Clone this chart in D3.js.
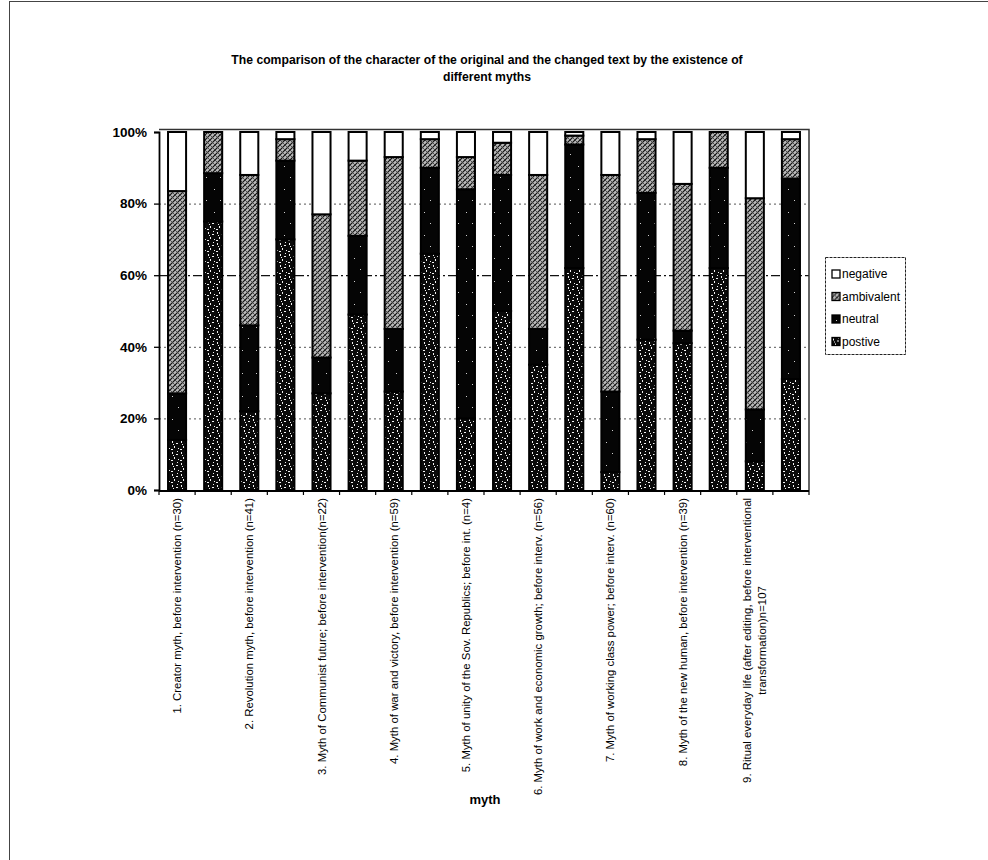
<!DOCTYPE html>
<html>
<head>
<meta charset="utf-8">
<script src="https://cdn.jsdelivr.net/npm/d3@7"></script>
<style>
  body { margin: 0; background: #fff; }
  svg { display: block; font-family: Arial, "Liberation Sans", sans-serif; }
</style>
</head>
<body>
<svg id="chart" width="988" height="860"></svg>
<script>
// Categories: each myth appears twice, original text (labelled) and changed text (unlabelled)
const categories = ["m1a","m1b","m2a","m2b","m3a","m3b","m4a","m4b","m5a","m5b","m6a","m6b","m7a","m7b","m8a","m8b","m9a","m9b"];
const tickLabels = [
  "1. Creator myth, before intervention (n=30)", "",
  "2. Revolution myth, before intervention (n=41)", "",
  "3. Myth of Communist future; before intervention(n=22)", "",
  "4. Myth of war and victory, before intervention (n=59)", "",
  "5. Myth of unity of the Sov. Republics; before int. (n=4)", "",
  "6. Myth of work and economic growth; before interv. (n=56)", "",
  "7. Myth of working class power; before interv. (n=60)", "",
  "8. Myth of the new human, before intervention (n=39)", "",
  "9. Ritual everyday life (after editing, before interventional\ntransformation)n=107", ""
];

// Shares in percent, stacked bottom to top: postive, neutral, ambivalent, negative
const positive   = [14, 75, 22, 70, 27, 49, 27.5, 66, 20, 50, 35, 62, 5, 42, 41, 62, 8, 31];
const neutral    = [13, 13.5, 24, 22, 10, 22, 17.5, 24, 64, 38, 10, 34.5, 22.5, 41, 3.5, 28, 14.5, 56];
const ambivalent = [56.5, 11.5, 42, 6, 40, 21, 48, 8, 9, 9, 43, 2.5, 60.5, 15, 41, 10, 59, 11];
const negative   = [16.5, 0, 12, 2, 23, 8, 7, 2, 7, 3, 12, 1, 12, 2, 14.5, 0, 18.5, 2];

const seriesKeys = ["positive", "neutral", "ambivalent", "negative"];
const legendNames = { negative: "negative", ambivalent: "ambivalent", neutral: "neutral", positive: "postive" };
const yTickValues = [0, 0.2, 0.4, 0.6, 0.8, 1];

const titleLines = [
  "The comparison of the character of the original and the changed text by the existence of",
  "different myths"
];
const xAxisTitle = "myth";

const rows = categories.map((c, i) => ({
  id: c,
  positive: positive[i] / 100,
  neutral: neutral[i] / 100,
  ambivalent: ambivalent[i] / 100,
  negative: negative[i] / 100
}));

const svg = d3.select("#chart");
const plot = { left: 159, right: 809, top: 132, bottom: 490 };

// fills: textured patterns for the dark segments and the hatched segment
const defs = svg.append("defs");

const pPos = defs.append("pattern").attr("id", "pat-positive")
  .attr("patternUnits", "userSpaceOnUse").attr("width", 9).attr("height", 11);
pPos.append("rect").attr("width", 9).attr("height", 11).attr("fill", "#0a0a0a");
[[1,1,1,2],[5,3,2,1],[3,6,1,2],[7,8,1,1],[0,9,2,1],[6,0,1,1],[2,4,1,1]].forEach(d =>
  pPos.append("rect").attr("x", d[0]).attr("y", d[1]).attr("width", d[2]).attr("height", d[3]).attr("fill", "#f2f2f2"));

const pNeu = defs.append("pattern").attr("id", "pat-neutral")
  .attr("patternUnits", "userSpaceOnUse").attr("width", 14).attr("height", 23);
pNeu.append("rect").attr("width", 14).attr("height", 23).attr("fill", "#050505");
[[4,5,1,1],[10,16,1,1]].forEach(d =>
  pNeu.append("rect").attr("x", d[0]).attr("y", d[1]).attr("width", d[2]).attr("height", d[3]).attr("fill", "#cfcfcf"));

const pAmb = defs.append("pattern").attr("id", "pat-ambivalent")
  .attr("patternUnits", "userSpaceOnUse").attr("width", 5).attr("height", 5);
pAmb.append("rect").attr("width", 5).attr("height", 5).attr("fill", "#b8b8b8");
pAmb.append("path").attr("d", "M0,5L5,0M-1,1L1,-1M4,6L6,4").attr("stroke", "#111").attr("stroke-width", 1.2);
pAmb.append("path").attr("d", "M0,0L5,5M-1,4L1,6M4,-1L6,1").attr("stroke", "#444").attr("stroke-width", 0.9);

const fills = {
  positive: "url(#pat-positive)",
  neutral: "url(#pat-neutral)",
  ambivalent: "url(#pat-ambivalent)",
  negative: "#ffffff"
};

// scales
const x = d3.scaleBand().domain(categories).range([plot.left, plot.right])
  .paddingInner(0.5).paddingOuter(0.25);
const y = d3.scaleLinear().domain([0, 1]).range([plot.bottom, plot.top]);

// outer chart frame
svg.append("rect").attr("x", 9.5).attr("y", 1.5).attr("width", 990).attr("height", 870)
  .attr("fill", "none").attr("stroke", "#444").attr("stroke-width", 1);

// title
svg.append("text").attr("x", 487).attr("y", 64).attr("text-anchor", "middle")
  .attr("font-size", 12.2).attr("font-weight", "bold")
  .selectAll("tspan").data(titleLines).join("tspan")
  .attr("x", 487).attr("dy", (d, i) => i === 0 ? 0 : 17).text(d => d);

// gridlines
svg.append("g").selectAll("line").data(yTickValues.filter(v => v > 0 && v < 1)).join("line")
  .attr("x1", plot.left).attr("x2", plot.right)
  .attr("y1", d => y(d) + 0.5).attr("y2", d => y(d) + 0.5)
  .attr("stroke", d => d === 0.6 ? "#111" : "#555")
  .attr("stroke-width", d => d === 0.6 ? 1.2 : 1)
  .attr("stroke-dasharray", d => d === 0.6 ? "9,3,2,3" : "2,3");

// plot area border (top and right)
svg.append("path")
  .attr("d", `M${plot.left},${plot.top - 2.5}H${plot.right}V${plot.bottom}`)
  .attr("fill", "none").attr("stroke", "#333").attr("stroke-width", 1.5);

// stacked bars
const stacked = d3.stack().keys(seriesKeys)(rows);
svg.append("g").selectAll("g").data(stacked).join("g")
  .attr("fill", d => fills[d.key])
  .selectAll("rect").data(d => d).join("rect")
  .attr("x", d => x(d.data.id))
  .attr("width", x.bandwidth())
  .attr("y", d => y(d[1]))
  .attr("height", d => Math.max(0, y(d[0]) - y(d[1])))
  .attr("stroke", "#000").attr("stroke-width", 2);

// y axis
const yAxis = svg.append("g").attr("transform", `translate(${plot.left},0)`)
  .call(d3.axisLeft(y).tickValues(yTickValues).tickFormat(d3.format(".0%")).tickSize(5).tickPadding(7));
yAxis.select(".domain").attr("stroke", "#000").attr("stroke-width", 1.8);
yAxis.selectAll(".tick line").attr("stroke", "#000").attr("stroke-width", 1.3);
yAxis.selectAll(".tick text").attr("font-size", 13.5).attr("font-weight", "bold")
  .attr("font-family", "Arial, 'Liberation Sans', sans-serif").attr("fill", "#000");

// x axis line and category boundary ticks
const step = x.step();
const boundaries = categories.map(c => x(c) - (step - x.bandwidth()) / 2).concat([plot.right]);
svg.append("line").attr("x1", plot.left).attr("x2", plot.right)
  .attr("y1", plot.bottom + 1).attr("y2", plot.bottom + 1)
  .attr("stroke", "#000").attr("stroke-width", 1.8);
svg.append("g").selectAll("line").data(boundaries).join("line")
  .attr("x1", d => d).attr("x2", d => d)
  .attr("y1", plot.bottom).attr("y2", plot.bottom + 5)
  .attr("stroke", "#000").attr("stroke-width", 1.2);

// rotated category labels
const labelTop = plot.bottom + 8;
const labelG = svg.append("g").attr("font-size", 11.4).attr("fill", "#000");
categories.forEach((c, i) => {
  const label = tickLabels[i];
  if (!label) return;
  const lines = label.split("\n");
  const cx = x(c) + x.bandwidth() / 2;
  const g = labelG.append("g").attr("transform", `translate(${cx},${labelTop}) rotate(-90)`);
  if (lines.length === 1) {
    g.append("text").attr("text-anchor", "end").attr("dy", "0.35em").text(lines[0]);
  } else {
    const texts = lines.map((ln, k) => g.append("text").attr("text-anchor", "middle")
      .attr("dy", (0.35 + (k - (lines.length - 1) / 2) * 1.3) + "em").text(ln));
    const maxLen = d3.max(texts, t => t.node().getComputedTextLength());
    texts.forEach(t => t.attr("x", -maxLen / 2));
  }
});

// x axis title
svg.append("text").attr("x", 485).attr("y", 804).attr("text-anchor", "middle")
  .attr("font-size", 13).attr("font-weight", "bold").text(xAxisTitle);

// legend (top entry = top of stack)
const legendKeys = seriesKeys.slice().reverse();
const legend = svg.append("g").attr("transform", "translate(825,257)");
legend.append("rect").attr("x", 0.5).attr("y", 0.5).attr("width", 80).attr("height", 97)
  .attr("fill", "#fff").attr("stroke", "#222").attr("stroke-width", 1).attr("stroke-dasharray", "3,1");
const items = legend.selectAll("g.item").data(legendKeys).join("g").attr("class", "item")
  .attr("transform", (d, i) => `translate(7,${13 + i * 22.5})`);
items.append("rect").attr("width", 8).attr("height", 8)
  .attr("fill", d => fills[d]).attr("stroke", "#000").attr("stroke-width", 1.3);
items.append("text").attr("x", 10).attr("y", 4).attr("dy", "0.35em")
  .attr("font-size", 12).text(d => legendNames[d]);
</script>
</body>
</html>
